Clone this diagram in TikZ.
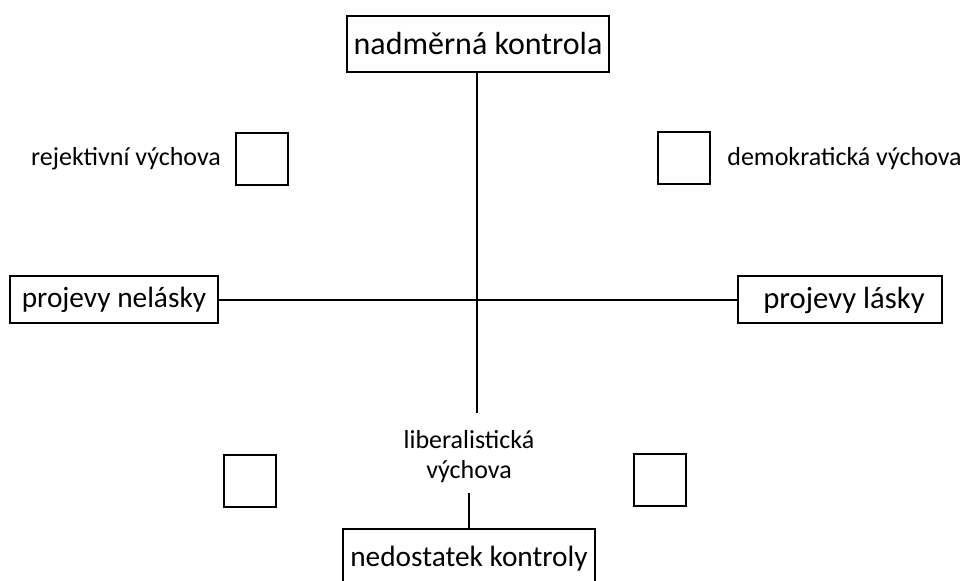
\documentclass[tikz,border=0pt]{standalone}
\usepackage{fontspec}
\setmainfont{Carlito}
\begin{document}
\begin{tikzpicture}[x=0.75pt,y=-0.75pt,
  bigbox/.style={draw,line width=1.5pt,font=\fontsize{23.4}{28}\selectfont,inner sep=0pt},
  sq/.style={draw,line width=1.5pt,minimum width=39pt,minimum height=39pt,inner sep=0pt},
  lbl/.style={font=\fontsize{19.5}{22.5}\selectfont,inner sep=0pt,align=center},
  conn/.style={line width=1.5pt}]
\clip (0,0) rectangle (965,581);
\useasboundingbox (0,0) rectangle (965,581);
\node[bigbox,font=\fontsize{24}{28}\selectfont,minimum width=196.5pt,minimum height=42pt] (top) at (478,44) {nadměrná kontrola};
\node[bigbox,font=\fontsize{22}{28}\selectfont,minimum width=156pt,minimum height=35.25pt] (left) at (114,300) {projevy nelásky};
\node[bigbox,font=\fontsize{23}{28}\selectfont,minimum width=153pt,minimum height=35.25pt] (right) at (840,300) {\hspace{6pt}projevy lásky};
\node[bigbox,font=\fontsize{22}{28}\selectfont,anchor=north,minimum width=189pt,text height=27.75pt,text depth=30pt] (bot) at (469,528) {nedostatek kontroly};
\node[sq] (sq1) at (261.5,159) {};
\node[sq] (sq2) at (683.5,158.5) {};
\node[sq] (sq3) at (249.5,480.5) {};
\node[sq] (sq4) at (659.5,479.5) {};
\node[lbl] (rej) at (126,159) {rejektivní výchova};
\node[lbl] (dem) at (844.5,159) {demokratická výchova};
\node[lbl] (lib) at (469,457) {liberalistická\\výchova};
\coordinate (vend) at (477,413);
\coordinate (libend) at (469,493);
\draw[conn] (top.south -| vend) -- (vend);
\draw[conn] (left.east) -- (right.west);
\draw[conn] (libend) -- (bot.north);
\end{tikzpicture}
\end{document}
